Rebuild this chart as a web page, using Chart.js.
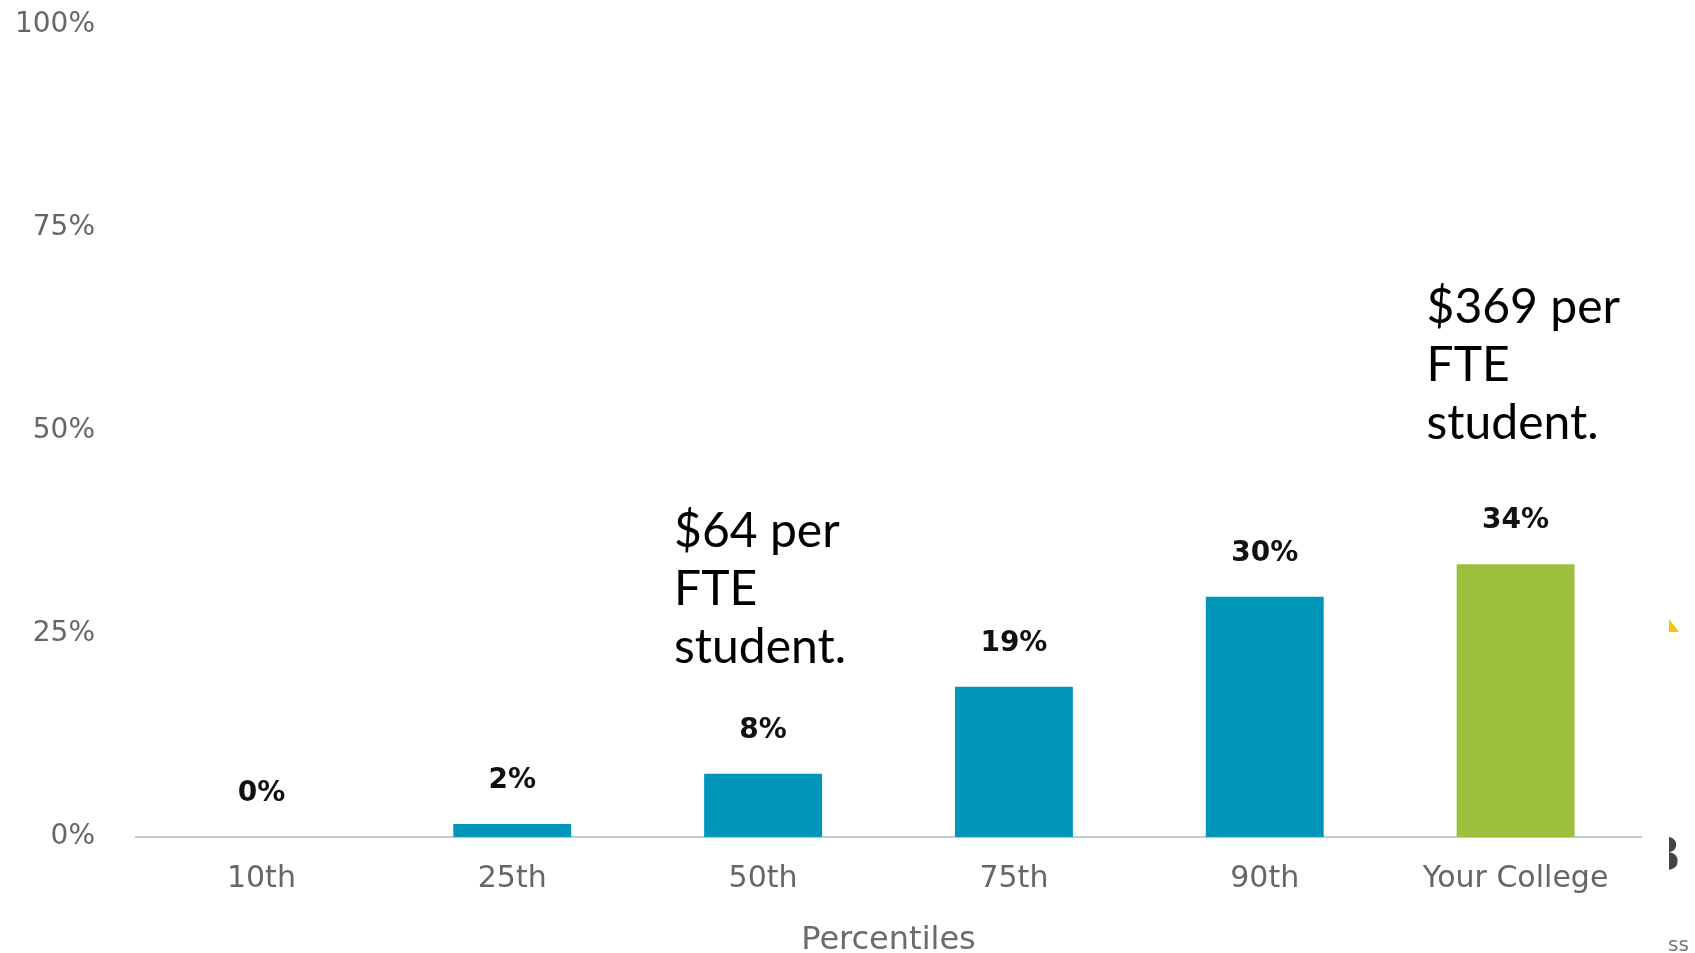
<!DOCTYPE html>
<html>
<head>
<meta charset="utf-8">
<script src="https://cdn.jsdelivr.net/npm/chart.js@4.4.0/dist/chart.umd.min.js"></script>
<style>
  body { margin: 0; background: #fff; }
  #wrap { width: 1695px; height: 953px; position: relative; }
</style>
</head>
<body>
<div id="wrap"><canvas id="myChart"></canvas></div>
<script>
// data
var categories = ['10th', '25th', '50th', '75th', '90th', 'Your College'];
var values = [0, 1.6, 7.8, 18.5, 29.6, 33.6];
var valueLabels = ['0%', '2%', '8%', '19%', '30%', '34%'];
var yTicks = [0, 25, 50, 75, 100];
var noteCategories = ['50th', 'Your College'];
var noteValues = [35.7, 63.3];
var noteLines = [
	['$64 per', 'FTE', 'student.'],
	['$369 per', 'FTE', 'student.']
];

var blue = '#0096b9';
var green = '#9dbf3e';

// labels above bars
var barLabels = {
	id: 'barLabels',
	afterDatasetsDraw: function(chart) {
		var ctx = chart.ctx;
		var meta = chart.getDatasetMeta(0);
		ctx.save();
		ctx.font = 'bold 28px "DejaVu Sans"';
		ctx.fillStyle = '#111';
		ctx.textAlign = 'center';
		ctx.textBaseline = 'middle';
		meta.data.forEach(function(bar, i) {
			ctx.fillText(valueLabels[i], bar.x, bar.y - 43);
		});
		ctx.restore();
	}
};

// "$ per FTE student" notes
var notes = {
	id: 'notes',
	afterDraw: function(chart) {
		var ctx = chart.ctx;
		var xs = chart.scales.x, ys = chart.scales.y;
		ctx.save();
		ctx.font = '48px Lato';
		ctx.fillStyle = '#000';
		ctx.textAlign = 'left';
		ctx.textBaseline = 'alphabetic';
		for (var n = 0; n < noteLines.length; n++) {
			var x = xs.getPixelForValue(categories.indexOf(noteCategories[n])) - 89;
			var y = ys.getPixelForValue(noteValues[n]);
			for (var l = 0; l < noteLines[n].length; l++) {
				ctx.fillText(noteLines[n][l], x, y + l * 58);
			}
		}
		ctx.restore();
	}
};

// bits of the slide cut off at the right edge
var edgeBits = {
	id: 'edgeBits',
	afterDraw: function(chart) {
		var ctx = chart.ctx;
		var x0 = chart.chartArea.right + 28;
		ctx.save();
		ctx.fillStyle = '#f5c800';
		ctx.beginPath();
		ctx.moveTo(x0, 619);
		ctx.lineTo(x0 + 10, 632);
		ctx.lineTo(x0, 632);
		ctx.closePath();
		ctx.fill();
		ctx.beginPath();
		ctx.rect(x0, 830, 40, 50);
		ctx.clip();
		ctx.fillStyle = '#444';
		ctx.font = 'bold 44px "DejaVu Serif"';
		ctx.textAlign = 'center';
		ctx.textBaseline = 'alphabetic';
		ctx.fillText('3', x0 - 4, 870);
		ctx.restore();
		ctx.save();
		ctx.fillStyle = '#777';
		ctx.font = '20px "DejaVu Sans"';
		ctx.textAlign = 'left';
		ctx.fillText('ss', x0 - 1, 951);
		ctx.restore();
	}
};

var ctx = document.getElementById('myChart').getContext('2d');
var myChart = new Chart(ctx, {
	type: 'bar',
	data: {
		labels: categories,
		datasets: [{
			data: values,
			backgroundColor: values.map(function(v, i) { return i == categories.length - 1 ? green : blue; }),
			barPercentage: 0.47,
			categoryPercentage: 1
		}]
	},
	options: {
		responsive: true,
		maintainAspectRatio: false,
		animation: false,
		layout: { padding: { top: 25, right: 54, bottom: 0, left: 0 } },
		plugins: {
			legend: { display: false },
			tooltip: { enabled: false }
		},
		scales: {
			x: {
				grid: { display: false },
				border: { display: true, color: '#bccbd6', width: 2 },
				ticks: {
					color: '#666',
					font: { family: 'DejaVu Sans', size: 30 },
					padding: 16
				},
				title: {
					display: true,
					text: 'Percentiles',
					color: '#6b6b6b',
					font: { family: 'DejaVu Sans', size: 32, lineHeight: 1 },
					padding: { top: 34, bottom: -4 }
				},
				afterFit: function(scale) { scale.height = 116; }
			},
			y: {
				min: 0,
				max: 100,
				afterBuildTicks: function(scale) {
					scale.ticks = yTicks.map(function(v) { return { value: v }; });
				},
				// tick length used as the gap between labels and plot (grid not drawn)
				grid: { display: false, drawTicks: true, tickLength: 41 },
				border: { display: false },
				ticks: {
					color: '#666',
					font: { family: 'DejaVu Sans', size: 28 },
					padding: 0,
					callback: function(v) { return v + '%'; }
				},
				afterFit: function(scale) { scale.width = 136; }
			}
		}
	},
	plugins: [barLabels, notes, edgeBits]
});
</script>
</body>
</html>
